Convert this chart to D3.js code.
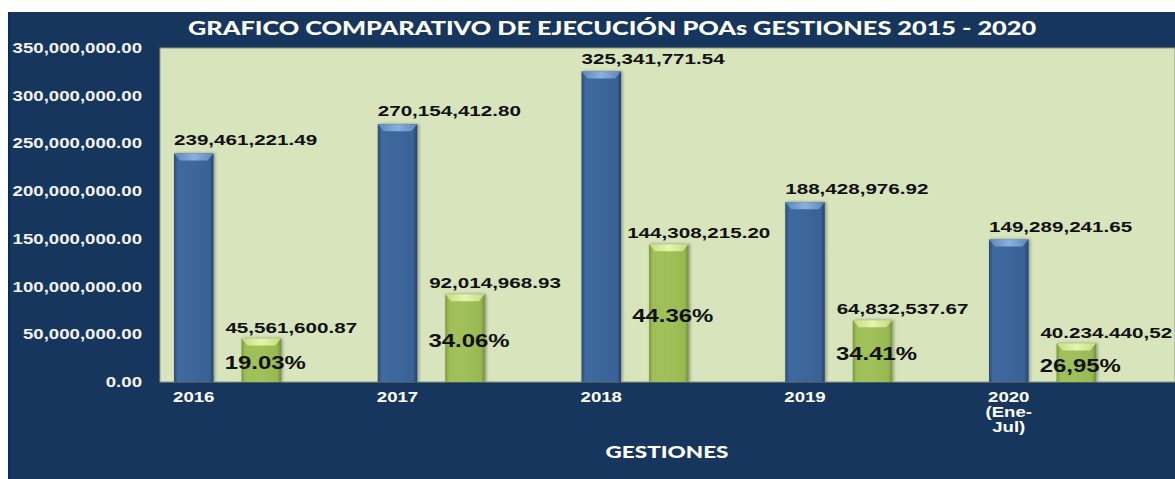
<!DOCTYPE html>
<html>
<head>
<meta charset="utf-8">
<script src="https://cdn.jsdelivr.net/npm/d3@7"></script>
<style>
  body { margin: 0; background: #ffffff; }
  svg { display: block; }
</style>
</head>
<body>
<div id="chart"></div>
<script>
// data
var years = ['2016', '2017', '2018', '2019', '2020']
var yearLines = [['2016'], ['2017'], ['2018'], ['2019'], ['2020', '(Ene-', 'Jul)']]
var programado = [239461221.49, 270154412.80, 325341771.54, 188428976.92, 149289241.65]
var ejecutado = [45561600.87, 92014968.93, 144308215.20, 64832537.67, 40234440.52]
var programadoLabels = ['239,461,221.49', '270,154,412.80', '325,341,771.54', '188,428,976.92', '149,289,241.65']
var ejecutadoLabels = ['45,561,600.87', '92,014,968.93', '144,308,215.20', '64,832,537.67', '40.234.440,52']
var pctLabels = ['19.03%', '34.06%', '44.36%', '34.41%', '26,95%']
var yTicks = [0, 50000000, 100000000, 150000000, 200000000, 250000000, 300000000, 350000000]

var width = 1175, height = 479
var SX = 1.33   // the original picture is stretched sideways

var svg = d3.select('#chart').append('svg')
    .attr('width', width)
    .attr('height', height)

var defs = svg.append('defs')

function hGrad(id, stops) {
    var g = defs.append('linearGradient').attr('id', id)
        .attr('x1', '0%').attr('x2', '100%').attr('y1', '0%').attr('y2', '0%')
    stops.forEach(function(s) {
        g.append('stop').attr('offset', s[0]).attr('stop-color', s[1])
    })
}
hGrad('blueBody', [['0%', '#2a4a77'], ['10%', '#3f6aa0'], ['50%', '#3d669b'], ['90%', '#3a6296'], ['100%', '#24406a']])
hGrad('greenBody', [['0%', '#7c9a3a'], ['10%', '#9fbf58'], ['50%', '#a0c05a'], ['90%', '#98b852'], ['100%', '#74903a']])
hGrad('blueTop', [['0%', '#5b86bb'], ['50%', '#8bb0de'], ['100%', '#5b86bb']])
hGrad('greenTop', [['0%', '#c2dc7c'], ['50%', '#e6f5b0'], ['100%', '#c2dc7c']])

var shadow = defs.append('filter').attr('id', 'shadow')
    .attr('x', '-30%').attr('y', '-10%').attr('width', '160%').attr('height', '120%')
shadow.append('feDropShadow')
    .attr('dx', 1.5).attr('dy', 0).attr('stdDeviation', 1.5)
    .attr('flood-color', '#000').attr('flood-opacity', 0.35)

// navy panel
svg.append('rect')
    .attr('x', 8).attr('y', 12)
    .attr('width', width - 8).attr('height', height - 12)
    .style('fill', '#17365d')
svg.append('rect')
    .attr('x', 8).attr('y', 12)
    .attr('width', 2).attr('height', height - 12)
    .style('fill', '#0d2a5c')

var plot = { left: 160, right: 1175, top: 48, bottom: 382 }

// plot area
svg.append('rect')
    .attr('x', plot.left).attr('y', plot.top)
    .attr('width', plot.right - plot.left).attr('height', plot.bottom - plot.top)
    .style('fill', '#d8e4bc')
    .style('stroke', '#8e9a86')
    .style('stroke-width', 1)

var x0 = d3.scaleBand()
    .domain(years)
    .range([plot.left, plot.left + 5 * 203.75])

var x1 = d3.scaleBand()
    .domain(['prog', 'ejec'])
    .range([14, 121])
    .paddingInner(0.415)

var y = d3.scaleLinear()
    .domain([0, 350000000])
    .range([plot.bottom, plot.top])

var fmt = d3.format(',.2f')

// stretched text helper
function stext(g, x, yy, str, anchor, size, color, family) {
    return g.append('text')
        .attr('transform', 'translate(' + x + ',' + yy + ') scale(' + SX + ',1)')
        .attr('text-anchor', anchor)
        .style('font-family', family || '"Liberation Sans", Arial, sans-serif')
        .style('font-weight', 'bold')
        .style('font-size', size + 'px')
        .style('fill', color)
        .text(str)
}

// y axis labels
var yAxisG = svg.append('g')
yTicks.forEach(function(t) {
    stext(yAxisG, 142, y(t) + 5, fmt(t), 'end', 14, '#f2f2f2')
})

// x axis labels
var xAxisG = svg.append('g')
years.forEach(function(yr, i) {
    var cx = x0(yr) + x1('prog') + x1.bandwidth() / 2
    yearLines[i].forEach(function(line, j) {
        stext(xAxisG, cx, 402 + j * 15, line, 'middle', 14, '#ffffff')
    })
})

function drawBar(g, x, top, w, body, cap) {
    var h = plot.bottom - top
    var bar = g.append('g').attr('filter', 'url(#shadow)')
    bar.append('rect')
        .attr('x', x).attr('y', top)
        .attr('width', w).attr('height', h)
        .style('fill', 'url(#' + body + ')')
    var b = Math.min(7, h / 3)
    bar.append('polygon')
        .attr('points', [[x, top], [x + w, top], [x + w - 6, top + b], [x + 6, top + b]].join(' '))
        .style('fill', 'url(#' + cap + ')')
}

var bars = svg.append('g')
years.forEach(function(yr, i) {
    var bx = x0(yr) + x1('prog')
    var gx = x0(yr) + x1('ejec')
    drawBar(bars, bx, y(programado[i]), x1.bandwidth(), 'blueBody', 'blueTop')
    drawBar(bars, gx, y(ejecutado[i]), x1.bandwidth(), 'greenBody', 'greenTop')
})

// data labels
var labels = svg.append('g')
years.forEach(function(yr, i) {
    var bx = x0(yr) + x1('prog')
    var gx = x0(yr) + x1('ejec')
    var w = x1.bandwidth()
    stext(labels, bx, y(programado[i]) - 8, programadoLabels[i], 'start', 15.5, '#111')
    stext(labels, gx + w / 2 + 30, y(ejecutado[i]) - 6, ejecutadoLabels[i], 'middle', 15.5, '#111')
    var mid = (y(ejecutado[i]) + plot.bottom) / 2
    stext(labels, gx + w / 2 + 4, mid + 9, pctLabels[i], 'middle', 18, '#111')
})

// title
var title = svg.append('text')
    .attr('text-anchor', 'middle')
    .style('font-family', 'Lato, "Open Sans", sans-serif')
    .style('font-weight', '900')
    .style('font-size', '18px')
    .style('fill', '#ffffff')
    .text('GRAFICO COMPARATIVO DE EJECUCIÓN POAs GESTIONES 2015 - 2020')
var tw = title.node().getComputedTextLength()
title.attr('transform', 'translate(612,35) scale(' + (849 / tw) + ',1)')

// axis title
var axTitle = svg.append('text')
    .attr('text-anchor', 'middle')
    .style('font-family', 'Lato, "Open Sans", sans-serif')
    .style('font-weight', '900')
    .style('font-size', '17px')
    .style('fill', '#ffffff')
    .text('GESTIONES')
var aw = axTitle.node().getComputedTextLength()
axTitle.attr('transform', 'translate(667,458) scale(' + (123 / aw) + ',1)')
</script>
</body>
</html>
